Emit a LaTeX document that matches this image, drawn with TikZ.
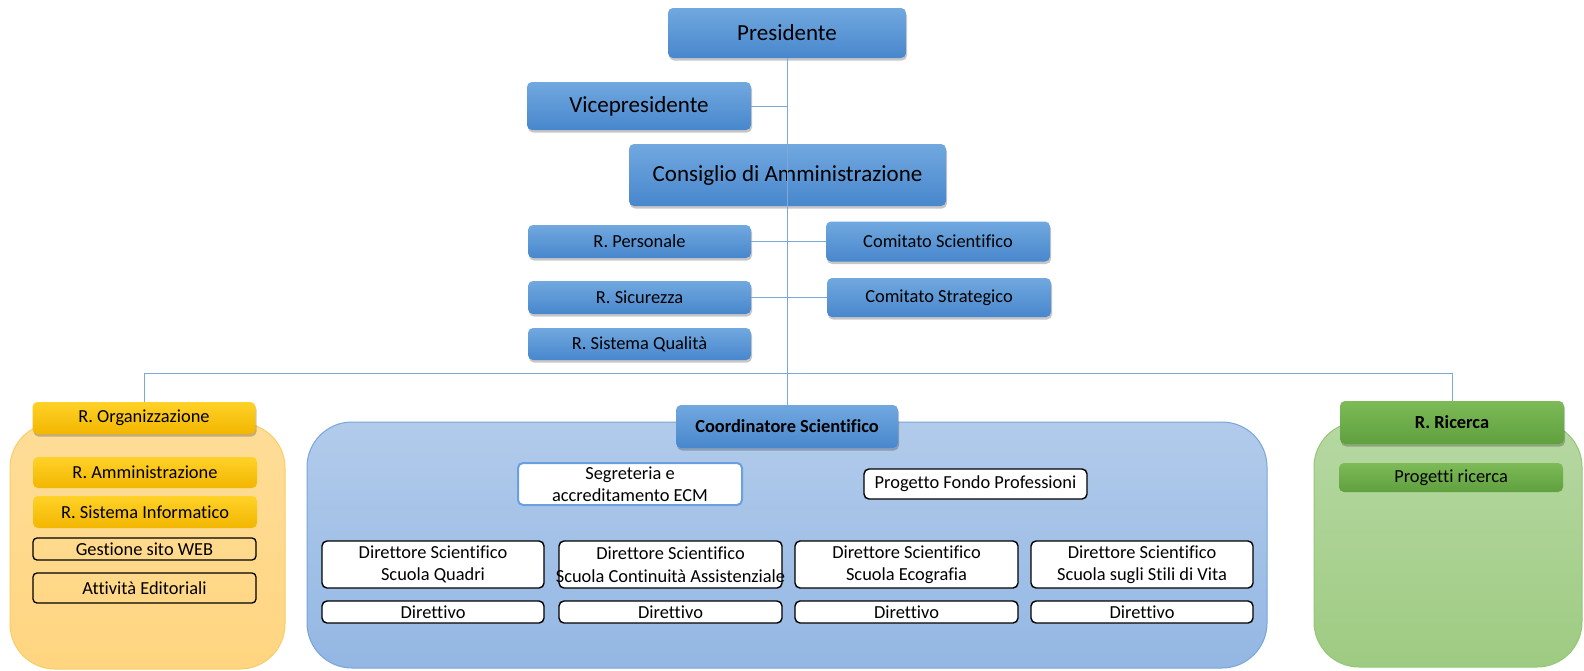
\documentclass[tikz,border=0pt]{standalone}
\usepackage{fontspec}
\setmainfont{Carlito}[RawFeature={-liga;-clig;-dlig}]
\usetikzlibrary{shadows}
\definecolor{bT}{RGB}{113,168,223}
\definecolor{bB}{RGB}{72,135,205}
\definecolor{lineC}{RGB}{125,168,218}
\definecolor{oT}{RGB}{255,210,40}
\definecolor{oB}{RGB}{242,182,0}
\definecolor{ocT}{RGB}{255,221,152}
\definecolor{ocB}{RGB}{255,213,128}
\definecolor{ocD}{RGB}{250,205,100}
\definecolor{bcT}{RGB}{178,203,235}
\definecolor{bcB}{RGB}{147,183,227}
\definecolor{bcD}{RGB}{120,165,220}
\definecolor{gcT}{RGB}{182,216,162}
\definecolor{gcB}{RGB}{158,203,130}
\definecolor{gcD}{RGB}{148,198,118}
\definecolor{gT}{RGB}{125,186,88}
\definecolor{gB}{RGB}{96,160,62}
\definecolor{segD}{RGB}{105,160,225}
\begin{document}
\begin{tikzpicture}[x=1pt,y=-1pt,
  base/.style={rounded corners=5pt, inner sep=0pt, align=center,
    font=\fontsize{18.4}{22.5}\selectfont},
  big/.style={font=\fontsize{23}{27}\selectfont},
  shad/.style={drop shadow={shadow xshift=1pt, shadow yshift=-2.5pt, opacity=0.22, fill=black}},
  bluebox/.style={base, top color=bT, bottom color=bB, draw=none},
  orgbox/.style={base, top color=oT, bottom color=oB, draw=none},
  grnbox/.style={base, top color=gT, bottom color=gB, draw=none},
  wbox/.style={base, fill=white, draw=black, line width=1.4pt},
  obox/.style={base, draw=black, line width=1.3pt, rounded corners=4pt},
  cont/.style={rounded corners=45pt, inner sep=0pt, line width=1pt},
  conn/.style={draw=lineC, line width=1pt}
]
\useasboundingbox (0,0) rectangle (1584,670);
\fill[white] (0,0) rectangle (1584,670);

% containers
\node[cont, top color=ocT, bottom color=ocB, draw=ocD, minimum width=275pt, minimum height=246pt] (ocont) at (147.5,546) {};
\node[cont, top color=bcT, bottom color=bcB, draw=bcD, minimum width=960pt, minimum height=246pt] (bcont) at (787,545) {};
\node[cont, top color=gcT, bottom color=gcB, draw=gcD, minimum width=268pt, minimum height=245pt] (gcont) at (1448,544.5) {};

% top hierarchy
\node[bluebox,big,shad,minimum width=238pt,minimum height=50pt] (pres) at (787,33) {Presidente};
\node[bluebox,big,shad,minimum width=224pt,minimum height=48pt] (vice) at (639,106) {Vicepresidente};
\node[bluebox,big,shad,minimum width=317pt,minimum height=62pt] (cda) at (787.5,175) {Consiglio di Amministrazione};
\node[bluebox,shad,minimum width=223pt,minimum height=33pt] (rpers) at (639.5,241.5) {R. Personale};
\node[bluebox,shad,minimum width=224pt,minimum height=40pt] (comsci) at (938,241.5) {Comitato Scientifico};
\node[bluebox,shad,minimum width=223pt,minimum height=33pt] (rsic) at (639.5,297.5) {R. Sicurezza};
\node[bluebox,shad,minimum width=224pt,minimum height=39pt] (comstr) at (939,297.5) {Comitato Strategico};
\node[bluebox,shad,minimum width=223pt,minimum height=32pt] (rsq) at (639.5,344) {R. Sistema Qualità};

% left column
\node[orgbox,shad,minimum width=223pt,minimum height=32pt] (rorg) at (144,418) {R. Organizzazione};
\node[orgbox,minimum width=224pt,minimum height=31pt] (ramm) at (145,472.5) {R. Amministrazione};
\node[orgbox,minimum width=224pt,minimum height=32pt] (rsi) at (145,512) {R. Sistema Informatico};
\node[obox,minimum width=223pt,minimum height=22pt] (gsw) at (144.5,549) {Gestione sito WEB};
\node[obox,minimum width=223pt,minimum height=30pt] (ae) at (144.5,588) {Attività Editoriali};

% center column
\node[bluebox,shad,minimum width=222pt,minimum height=43pt,font=\fontsize{18.4}{22.5}\selectfont\bfseries] (coord) at (787,426.5) {Coordinatore Scientifico};
\node[base,fill=white,draw=segD,line width=2pt,minimum width=224pt,minimum height=42pt] (segr) at (630,484) {Segreteria e\\accreditamento ECM};
\node[wbox,minimum width=223pt,minimum height=30pt] (pfp) at (975.5,484) {Progetto Fondo Professioni};
\node[wbox,minimum width=222pt,minimum height=47pt] (dir1) at (433,564.5) {Direttore Scientifico\\Scuola Quadri};
\node[wbox,minimum width=223pt,minimum height=47pt] (dir2) at (670.5,564.5) {Direttore Scientifico\\\makebox[0pt]{Scuola Continuità Assistenziale}};
\node[wbox,minimum width=223pt,minimum height=47pt] (dir3) at (906.5,564.5) {Direttore Scientifico\\Scuola Ecografia};
\node[wbox,minimum width=222pt,minimum height=47pt] (dir4) at (1142,564.5) {Direttore Scientifico\\Scuola sugli Stili di Vita};
\node[wbox,minimum width=222pt,minimum height=22pt] (dv1) at (433,612) {Direttivo};
\node[wbox,minimum width=223pt,minimum height=22pt] (dv2) at (670.5,612) {Direttivo};
\node[wbox,minimum width=223pt,minimum height=22pt] (dv3) at (906.5,612) {Direttivo};
\node[wbox,minimum width=222pt,minimum height=22pt] (dv4) at (1142,612) {Direttivo};

% right column
\node[grnbox,shad,minimum width=224pt,minimum height=43pt,font=\fontsize{18.4}{22.5}\selectfont\bfseries] (rric) at (1452,422.5) {R. Ricerca};
\node[grnbox,minimum width=224pt,minimum height=29pt] (prog) at (1451,477.5) {Progetti ricerca};

% connectors
\coordinate (bus) at (787,373);
\draw[conn] (pres.south) -- (coord.north);
\draw[conn] (vice.east) -- (vice.east -| pres.south);
\draw[conn] (rpers.east) -- (comsci.west);
\draw[conn] (rsic.east) -- (comstr.west);
\draw[conn] (rorg.north) -- (rorg.north |- bus) -- (rric.north |- bus) -- (rric.north);
\end{tikzpicture}
\end{document}
